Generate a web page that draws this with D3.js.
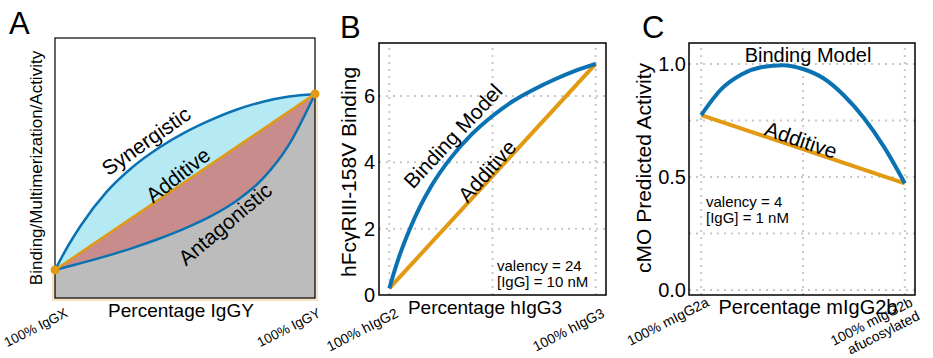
<!DOCTYPE html>
<html>
<head>
<meta charset="utf-8">
<script src="https://cdn.jsdelivr.net/npm/d3@7"></script>
<style>
  body { margin: 0; background: #fff; }
  svg { font-family: "Liberation Sans", Arial, sans-serif; }
</style>
</head>
<body>
<script>
// panel A: schematic
var aX = [0, 0.05, 0.1, 0.2, 0.3, 0.4, 0.5, 0.6, 0.7, 0.8, 0.9, 1.0];
var aSynergistic = [0.108, 0.20, 0.28, 0.41, 0.505, 0.578, 0.637, 0.685, 0.725, 0.755, 0.775, 0.785];
var aAntagonistic = [0.108, 0.121, 0.134, 0.162, 0.193, 0.228, 0.268, 0.315, 0.375, 0.46, 0.59, 0.785];
var aAddX = [0, 1];
var aAdditive = [0.108, 0.785];
var aTicks = ["100% IgGX", "100% IgGY"];

// panel B: hFcgRIII-158V binding
var bX = [0, 0.02, 0.05, 0.1, 0.15, 0.2, 0.3, 0.4, 0.5, 0.6, 0.7, 0.8, 0.9, 1.0];
var bBinding = [0.2, 0.62, 1.2, 2.0, 2.68, 3.25, 4.15, 4.85, 5.4, 5.85, 6.2, 6.5, 6.76, 6.97];
var bAddX = [0, 1];
var bAdditive = [0.2, 6.97];
var bYTicks = [0, 2, 4, 6];
var bTicks = ["100% hIgG2", "100% hIgG3"];

// panel C: cMO predicted activity
var cX = [0, 0.1, 0.2, 0.3, 0.4, 0.5, 0.6, 0.7, 0.8, 0.9, 1.0];
var cBinding = [0.774, 0.89, 0.955, 0.987, 0.995, 0.978, 0.937, 0.862, 0.76, 0.63, 0.472];
var cAddX = [0, 1];
var cAdditive = [0.774, 0.472];
var cYTicks = [0, 0.5, 1.0];
var cYGrid = [0, 0.25, 0.5, 0.75, 1.0];
var cTicks = [["100% mIgG2a"], ["100% mIgG2b", "afucosylated"]];

var blue = "#0a72b2", orange = "#e19a12";

var svg = d3.select("body").append("svg")
    .attr("width", 933)
    .attr("height", 358);

function pts(xs, ys) {
    return xs.map(function(x, i) { return [x, ys[i]]; });
}

// ---------- A ----------
var ax = d3.scaleLinear().domain([0, 1]).range([55, 315]);
var ay = d3.scaleLinear().domain([0, 1]).range([298, 38]);
var gA = svg.append("g");

function areaA(xs, ys) {
    return d3.area()
        .x(function(d) { return ax(d[0]); })
        .y0(ay(0))
        .y1(function(d) { return ay(d[1]); })
        .curve(d3.curveMonotoneX)(pts(xs, ys));
}
gA.append("path").attr("d", areaA(aX, aSynergistic)).style("fill", "#b5e9f3");
gA.append("path").attr("d", areaA(aAddX, aAdditive)).style("fill", "#c88c8c");
gA.append("path").attr("d", areaA(aX, aAntagonistic)).style("fill", "#bcbcbc");

// faint cream rim around the grey region
var n = aAntagonistic.length - 1;
gA.append("path")
    .attr("d", d3.line()([[ax(0) - 1.5, ay(aAntagonistic[0])], [ax(0) - 1.5, ay(0) + 1.5],
                          [ax(1) + 1.5, ay(0) + 1.5], [ax(1) + 1.5, ay(aAntagonistic[n])]]))
    .style("fill", "none").style("stroke", "#f4e4c4").style("stroke-width", 3);

var lineA = d3.line()
    .x(function(d) { return ax(d[0]); })
    .y(function(d) { return ay(d[1]); })
    .curve(d3.curveMonotoneX);
gA.append("path").attr("d", lineA(pts(aX, aSynergistic)))
    .style("fill", "none").style("stroke", blue).style("stroke-width", 2.5);
gA.append("path").attr("d", lineA(pts(aX, aAntagonistic)))
    .style("fill", "none").style("stroke", blue).style("stroke-width", 2.5);
gA.append("path").attr("d", lineA(pts(aAddX, aAdditive)))
    .style("fill", "none").style("stroke", orange).style("stroke-width", 2.5);

gA.append("rect")
    .attr("x", ax(0)).attr("y", ay(1))
    .attr("width", ax(1) - ax(0)).attr("height", ay(0) - ay(1))
    .style("fill", "none").style("stroke", "#000").style("stroke-width", 1.2);

gA.selectAll("circle.end").data(pts(aAddX, aAdditive)).enter()
    .append("circle")
    .attr("cx", function(d) { return ax(d[0]); })
    .attr("cy", function(d) { return ay(d[1]); })
    .attr("r", 4.5)
    .style("fill", orange);

function label(g, txt, x, y, angle, size) {
    g.append("text")
        .attr("transform", "translate(" + x + "," + y + ") rotate(" + angle + ")")
        .attr("text-anchor", "middle")
        .attr("dy", "0.35em")
        .style("font-size", size + "px")
        .text(txt);
}
label(gA, "Synergistic", 146, 141, -35, 21);
label(gA, "Additive", 178, 175, -38, 21);
label(gA, "Antagonistic", 225, 224, -40, 21);

// ---------- shared axis bits ----------
function xTickLabels(g, xs, ticks, y, size) {
    ticks.forEach(function(t, i) {
        var lines = Array.isArray(t) ? t : [t];
        var txt = g.append("text")
            .attr("transform", "translate(" + xs(i) + "," + y + ") rotate(-27)")
            .attr("text-anchor", "end")
            .style("font-size", size + "px");
        lines.forEach(function(l, j) {
            txt.append("tspan").attr("x", 0).attr("dy", j === 0 ? "0.75em" : "1.1em").text(l);
        });
    });
}

function panelLetter(txt, x, y) {
    svg.append("text").attr("x", x).attr("y", y)
        .style("font-size", "31px").text(txt);
}

function yTitle(txt, x, y, size) {
    svg.append("text")
        .attr("transform", "translate(" + x + "," + y + ") rotate(-90)")
        .attr("text-anchor", "middle")
        .style("font-size", size + "px")
        .text(txt);
}

function xTitle(txt, x, y, size) {
    svg.append("text").attr("x", x).attr("y", y)
        .attr("text-anchor", "middle")
        .style("font-size", size + "px")
        .text(txt);
}

panelLetter("A", 9, 34);
yTitle("Binding/Multimerization/Activity", 42, 168, 17);
xTitle("Percentage IgGY", 181, 317, 19);
xTickLabels(svg, function(i) { return ax(aAddX[i]) + (i === 0 ? 9 : 2); }, aTicks, 307, 13.5);

// ---------- B ----------
var bx = d3.scaleLinear().domain([-0.05, 1.05]).range([379, 606]);
var by = d3.scaleLinear().domain([0, 7.6]).range([295, 43]);
var gB = svg.append("g");

gB.selectAll("line.vg").data([0, 0.5, 1]).enter().append("line")
    .attr("x1", bx).attr("x2", bx).attr("y1", by(0)).attr("y2", by(7.6))
    .style("stroke", "#c8c8c8").style("stroke-width", 2).style("stroke-dasharray", "2,5");
gB.selectAll("line.hg").data(bYTicks.slice(1)).enter().append("line")
    .attr("x1", bx(-0.05)).attr("x2", bx(1.05)).attr("y1", by).attr("y2", by)
    .style("stroke", "#c8c8c8").style("stroke-width", 2).style("stroke-dasharray", "2,5");

var lineB = d3.line()
    .x(function(d) { return bx(d[0]); })
    .y(function(d) { return by(d[1]); })
    .curve(d3.curveMonotoneX);
gB.append("path").attr("d", lineB(pts(bAddX, bAdditive)))
    .style("fill", "none").style("stroke", orange).style("stroke-width", 4);
gB.append("path").attr("d", lineB(pts(bX, bBinding)))
    .style("fill", "none").style("stroke", blue).style("stroke-width", 4);

gB.append("rect")
    .attr("x", bx(-0.05)).attr("y", by(7.6))
    .attr("width", bx(1.05) - bx(-0.05)).attr("height", by(0) - by(7.6))
    .style("fill", "none").style("stroke", "#000").style("stroke-width", 1.5);

var bAxis = d3.axisLeft(by).tickValues(bYTicks).tickSize(0).tickPadding(4).tickFormat(d3.format("d"));
gB.append("g").attr("transform", "translate(" + bx(-0.05) + ",0)").call(bAxis)
    .call(function(g) { g.select(".domain").remove(); })
    .selectAll("text").style("font-size", "20px").style("font-family", "Liberation Sans, Arial, sans-serif").attr("fill", "#000");

label(gB, "Binding  Model", 453, 136, -47, 21);
label(gB, "Additive", 487, 171, -48, 21);

var bNote = gB.append("text").attr("x", 497).attr("y", 271).style("font-size", "15px");
bNote.append("tspan").attr("x", 497).text("valency = 24");
bNote.append("tspan").attr("x", 497).attr("dy", 15.5).text("[IgG] = 10 nM");

panelLetter("B", 340, 38);
yTitle("hFc\u03b3RIII-158V Binding", 356, 172, 21);
xTitle("Percentage hIgG3", 485, 314, 19);
xTickLabels(svg, function(i) { return bx(bAddX[i]) + 5; }, bTicks, 307, 14);

// ---------- C ----------
var cx = d3.scaleLinear().domain([-0.06, 1.05]).range([689, 915]);
var cy = d3.scaleLinear().domain([-0.022, 1.093]).range([295, 43]);
var gC = svg.append("g");

gC.selectAll("line.vg").data([0, 0.5, 1]).enter().append("line")
    .attr("x1", cx).attr("x2", cx).attr("y1", cy(-0.022)).attr("y2", cy(1.093))
    .style("stroke", "#c8c8c8").style("stroke-width", 2).style("stroke-dasharray", "2,5");
gC.selectAll("line.hg").data(cYGrid).enter().append("line")
    .attr("x1", cx(-0.06)).attr("x2", cx(1.05)).attr("y1", cy).attr("y2", cy)
    .style("stroke", "#c8c8c8").style("stroke-width", 2).style("stroke-dasharray", "2,5");

var lineC = d3.line()
    .x(function(d) { return cx(d[0]); })
    .y(function(d) { return cy(d[1]); })
    .curve(d3.curveMonotoneX);
gC.append("path").attr("d", lineC(pts(cAddX, cAdditive)))
    .style("fill", "none").style("stroke", orange).style("stroke-width", 4);
gC.append("path").attr("d", lineC(pts(cX, cBinding)))
    .style("fill", "none").style("stroke", blue).style("stroke-width", 4);

gC.append("rect")
    .attr("x", cx(-0.06)).attr("y", cy(1.093))
    .attr("width", cx(1.05) - cx(-0.06)).attr("height", cy(-0.022) - cy(1.093))
    .style("fill", "none").style("stroke", "#000").style("stroke-width", 1.5);

var cAxis = d3.axisLeft(cy).tickValues(cYTicks).tickSize(0).tickPadding(3).tickFormat(d3.format(".1f"));
gC.append("g").attr("transform", "translate(" + cx(-0.06) + ",0)").call(cAxis)
    .call(function(g) { g.select(".domain").remove(); })
    .selectAll("text").style("font-size", "20px").style("font-family", "Liberation Sans, Arial, sans-serif").attr("fill", "#000");

label(gC, "Binding  Model", 808, 55, 0, 20);
label(gC, "Additive", 801, 140, 19, 21);

var cNote = gC.append("text").attr("x", 706).attr("y", 207).style("font-size", "15px");
cNote.append("tspan").attr("x", 706).text("valency = 4");
cNote.append("tspan").attr("x", 706).attr("dy", 15.5).text("[IgG] = 1 nM");

panelLetter("C", 642, 38);
yTitle("cMO Predicted Activity", 651, 168, 21);
xTitle("Percentage mIgG2b", 808, 314, 20);
xTickLabels(svg, function(i) { return cx(cAddX[i]) + 4; }, cTicks, 296, 14);
</script>
</body>
</html>
